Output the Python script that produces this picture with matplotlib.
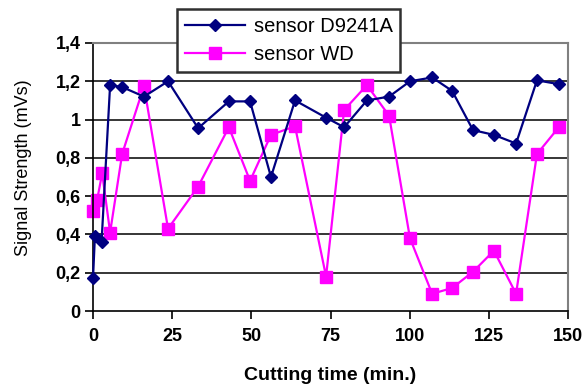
import matplotlib
matplotlib.use("Agg")
import matplotlib.pyplot as plt
from matplotlib.ticker import FixedLocator, FuncFormatter

# Cutting time (min.) and signal strength (mVs) for each sensor
time_d9241a = [0, 0.6, 2.7, 5.4, 9.2, 16.1, 23.7, 33.2, 42.9, 49.6, 56.2, 63.8,
               73.6, 79.3, 86.5, 93.5, 100.1, 107.1, 113.4, 120.0, 126.6, 133.6,
               140.2, 147.1]
signal_d9241a = [0.17, 0.39, 0.36, 1.18, 1.17, 1.12, 1.20, 0.955, 1.095, 1.095,
                 0.70, 1.10, 1.01, 0.96, 1.10, 1.12, 1.20, 1.22, 1.15, 0.945,
                 0.92, 0.875, 1.205, 1.185]

time_wd = [0, 1.3, 2.9, 5.4, 9.2, 16.1, 23.7, 33.2, 42.9, 49.6, 56.2, 63.8,
           73.6, 79.3, 86.5, 93.5, 100.1, 107.1, 113.4, 120.0, 126.6, 133.6,
           140.2, 147.1]
signal_wd = [0.52, 0.58, 0.72, 0.41, 0.82, 1.175, 0.43, 0.65, 0.96, 0.68,
             0.92, 0.965, 0.18, 1.05, 1.18, 1.02, 0.38, 0.09, 0.12, 0.205,
             0.315, 0.09, 0.82, 0.96]

x_ticks = [0, 25, 50, 75, 100, 125, 150]
y_ticks = [0, 0.2, 0.4, 0.6, 0.8, 1.0, 1.2, 1.4]

plt.rcParams['font.family'] = ['Liberation Sans', 'DejaVu Sans']

fig = plt.figure(figsize=(5.87, 3.85), dpi=100)
ax = fig.add_axes([93 / 587, 1 - 311 / 385, (568 - 93) / 587, (311 - 43) / 385])

for y in y_ticks[1:-1]:
    ax.axhline(y, color='black', lw=1.1, zorder=1)

ax.plot(time_d9241a, signal_d9241a, color='#000080', lw=1.6, marker='D',
        markersize=6, label='sensor D9241A', zorder=3, clip_on=False)
ax.plot(time_wd, signal_wd, color='#FF00FF', lw=1.6, marker='s',
        markersize=9, label='sensor WD', zorder=2, clip_on=False)

ax.set_xlim(0, 150)
ax.set_ylim(0, 1.4)
ax.xaxis.set_major_locator(FixedLocator(x_ticks))
ax.yaxis.set_major_locator(FixedLocator(y_ticks))
ax.yaxis.set_major_formatter(FuncFormatter(lambda v, p: f"{v:g}".replace('.', ',')))
ax.tick_params(direction='out', length=6, width=1.2, labelsize=13)
ax.tick_params(axis='x', pad=6)
ax.tick_params(axis='y', pad=3)
for lbl in ax.get_xticklabels() + ax.get_yticklabels():
    lbl.set_fontweight('bold')

for side in ('left', 'bottom'):
    ax.spines[side].set_color('black')
    ax.spines[side].set_linewidth(1.2)
for side in ('top', 'right'):
    ax.spines[side].set_color('#808080')
    ax.spines[side].set_linewidth(1.5)

ax.set_xlabel('Cutting time (min.)', fontsize=14, fontweight='bold', labelpad=16)
ax.set_ylabel('Signal Strength (mVs)', fontsize=13)
ax.yaxis.set_label_coords(-0.128, 0.534)

leg = fig.legend(loc='upper left', bbox_to_anchor=(177 / 587, 1 - 9 / 385),
                 fontsize=14.5, frameon=True, fancybox=False, edgecolor='#303030',
                 framealpha=1, borderpad=0.4, handlelength=3.0,
                 handletextpad=0.4, labelspacing=0.45, borderaxespad=0)
leg.get_frame().set_linewidth(1.8)

fig.savefig('out.png', dpi=100)
